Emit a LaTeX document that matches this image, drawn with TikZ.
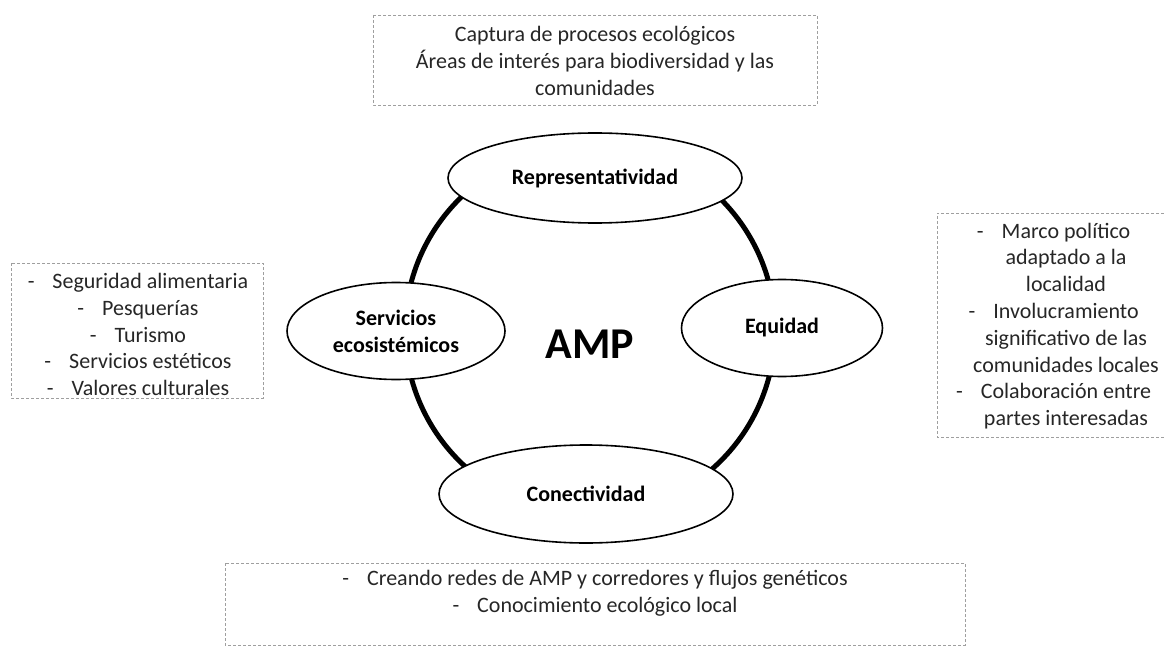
\documentclass[tikz,border=0pt]{standalone}
\usepackage{fontspec}
\setmainfont{Carlito}
\usetikzlibrary{shapes.geometric}
\newcommand{\notefont}{\fontsize{22}{26.8}\selectfont}
\tikzset{
  topic/.style    = {ellipse, draw, line width=1.6pt, fill=white, align=center,
                     font=\notefont\bfseries, inner sep=0pt},
  notebox/.style  = {draw=gray!75, dash pattern=on 3pt off 2pt, line width=0.9pt},
  notetext/.style = {align=center, font=\notefont, inner sep=0pt, text=black!85},
}
\newcommand{\itemdash}{-\hspace{18pt}}

\begin{document}
\begin{tikzpicture}[x=1pt, y=-1pt]
  \useasboundingbox (0,0) rectangle (1164,647);
  % central ring
  \node[circle, draw, line width=5pt, minimum size=370pt, inner sep=0pt] (ring) at (590,330) {};
  \node[font=\fontsize{44}{50}\selectfont\bfseries, inner sep=0pt] (amp) at (590,344) {AMP};
  % four pillars
  \node[topic, minimum width=294pt, minimum height=90pt] (rep) at (595,178) {Representatividad};
  \node[topic, minimum width=218pt, minimum height=97pt] (serv) at (396,331) {Servicios\\ecosistémicos};
  \node[topic, minimum width=201pt, minimum height=97pt] (equi) at (782,328) {Equidad};
  \node[topic, minimum width=294pt, minimum height=98pt] (conec) at (586,494) {Conectividad};
  % notes
  \draw[notebox] (373,15) rectangle (817,105);
  \node[notetext] (reptxt) at (595,61)
    {Captura de procesos ecológicos\\Áreas de interés para biodiversidad y las\\comunidades};
  \draw[notebox] (11,263) rectangle (263,398);
  \node[notetext] (servtxt) at (138,334.5)
    {\itemdash Seguridad alimentaria\\\itemdash Pesquerías\\\itemdash Turismo\\
     \itemdash Servicios estéticos\\\itemdash Valores culturales};
  \draw[notebox] (1164,213) -- (937,213) -- (937,437) -- (1164,437);
  \node[notetext] (equitxt) at (1066,326)
    {\llap{\itemdash}Marco político\\adaptado a la\\localidad\\
     \llap{\itemdash}Involucramiento\\significativo de las\\comunidades locales\\
     \llap{\itemdash}Colaboración entre\\partes interesadas};
  \draw[notebox] (225,563) rectangle (965,645);
  \node[notetext] (conectxt) at (595,593.5)
    {\itemdash Creando redes de AMP y corredores y flujos genéticos\\
     \itemdash Conocimiento ecológico local};
\end{tikzpicture}
\end{document}
